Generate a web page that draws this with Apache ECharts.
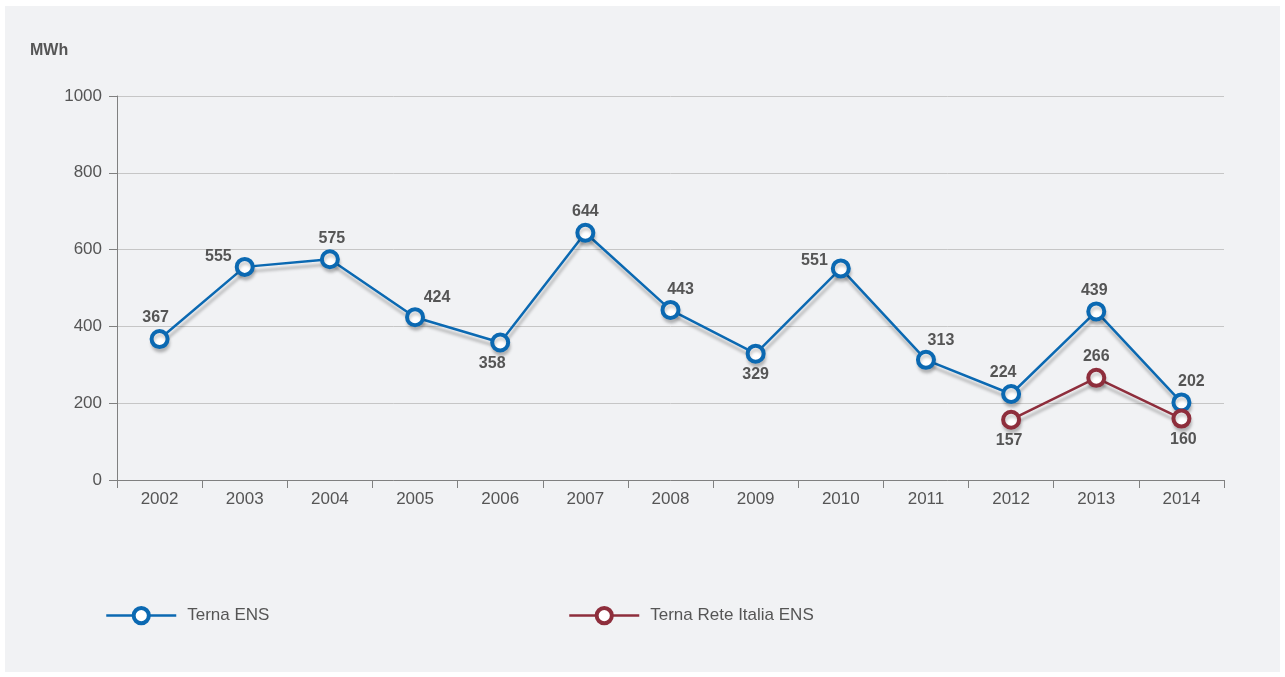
<!DOCTYPE html>
<html><head><meta charset="utf-8">
<script src="https://cdn.jsdelivr.net/npm/echarts@6/dist/echarts.min.js"></script>
<style>html,body{margin:0;padding:0;background:#fff;}#c{width:1285px;height:677px;}</style>
</head><body><div id="c"></div>
<script>
const years = ['2002','2003','2004','2005','2006','2007','2008','2009','2010','2011','2012','2013','2014'];
const ternaENS = [367,555,575,424,358,644,443,329,551,313,224,439,202];
const ternaReteItaliaENS = [null,null,null,null,null,null,null,null,null,null,157,266,160];
const yTicks = [0,200,400,600,800,1000];

// label placement (style only)
const blueLabelPos = [
  ['top',[-4,2]],['left',[2,-10]],['top',[2,2]],['top',[22,3]],['bottom',[-8,-2]],
  ['top',[0,2]],['top',[10,3]],['bottom',[0,-2]],['left',[2,-8]],['top',[15,4]],
  ['top',[-8,2]],['top',[-2,2]],['top',[10,2]]
];
const redLabelPos = {10:['bottom',[-2,-2]],11:['top',[0,2]],12:['bottom',[2,-2]]};

const BLUE = '#0b69b2', RED = '#8e2e3c';
const font = 'Liberation Sans, Arial, sans-serif';
const labelStyle = {show:true, color:'#555', fontSize:16, fontWeight:'bold', fontFamily:font};
const blueData = ternaENS.map((v,i)=>({value:v, label:Object.assign({}, labelStyle, {position:blueLabelPos[i][0], offset:blueLabelPos[i][1]})}));
const redData = ternaReteItaliaENS.map((v,i)=> v==null ? null : ({value:v, label:Object.assign({}, labelStyle, {position:redLabelPos[i][0], offset:redLabelPos[i][1]})}));

const chart = echarts.init(document.getElementById('c'), null, {renderer:'canvas'});
const legendCommon = {itemWidth:70, itemHeight:19, padding:0, top:606,
  textStyle:{color:'#555', fontSize:17, fontFamily:font, padding:[0,0,0,6]},
  lineStyle:{width:2.5}, itemStyle:{borderWidth:4}};
chart.setOption({
  animation:false,
  textStyle:{fontFamily:font},
  graphic:[
    {type:'rect', z:-100, silent:true, shape:{x:5,y:6,width:1275,height:666}, style:{fill:'#f1f2f4'}},
    {type:'text', left:30, top:43, style:{text:'MWh', fill:'#555', font:'bold 16px '+font}}
  ],
  grid:{left:117, right:61, top:96, bottom:197, containLabel:false},
  legend:[
    Object.assign({data:['Terna ENS'], left:105}, legendCommon),
    Object.assign({data:['Terna Rete Italia ENS'], left:568}, legendCommon)
  ],
  xAxis:{
    type:'category', data:years, boundaryGap:true,
    axisLine:{lineStyle:{color:'#808080', width:1}},
    axisTick:{show:true, length:8, lineStyle:{color:'#808080'}},
    axisLabel:{color:'#555', fontSize:17, margin:11, fontFamily:font}
  },
  yAxis:{
    type:'value', min:yTicks[0], max:yTicks[yTicks.length-1], interval:200,
    axisLine:{show:true, lineStyle:{color:'#808080'}},
    axisTick:{show:true, length:8, lineStyle:{color:'#808080'}},
    axisLabel:{color:'#555', fontSize:17, margin:15, fontFamily:font, formatter:v=>String(v)},
    splitLine:{lineStyle:{color:'#c6c6c6', width:1}}
  },
  series:[
    {name:'Terna ENS', type:'line', data:blueData, symbol:'circle', symbolSize:16, showAllSymbol:true,
     lineStyle:{color:BLUE, width:2.5, shadowColor:'rgba(0,0,0,0.26)', shadowBlur:3, shadowOffsetX:1, shadowOffsetY:5},
     itemStyle:{color:'#fff', borderColor:BLUE, borderWidth:4, shadowColor:'rgba(0,0,0,0.18)', shadowBlur:3, shadowOffsetX:1, shadowOffsetY:4},
     emphasis:{disabled:true}, z:3},
    {name:'Terna Rete Italia ENS', type:'line', data:redData, symbol:'circle', symbolSize:16, connectNulls:false,
     lineStyle:{color:RED, width:2.5, shadowColor:'rgba(0,0,0,0.26)', shadowBlur:3, shadowOffsetX:1, shadowOffsetY:5},
     itemStyle:{color:'#fff', borderColor:RED, borderWidth:4, shadowColor:'rgba(0,0,0,0.18)', shadowBlur:3, shadowOffsetX:1, shadowOffsetY:4},
     emphasis:{disabled:true}, z:4}
  ]
});
</script></body></html>
